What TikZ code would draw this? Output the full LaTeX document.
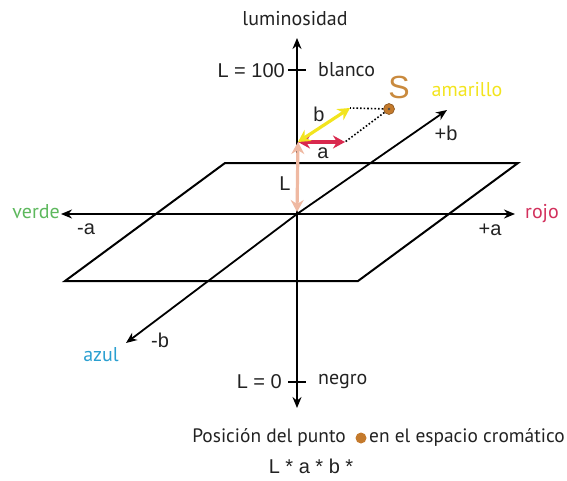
\documentclass[tikz,border=0pt]{standalone}
\usepackage{fontspec}
\setmainfont{PT Sans}
\newfontfamily\arialf{Liberation Sans}
\usetikzlibrary{arrows.meta}
\definecolor{verdec}{HTML}{5DB85D}
\definecolor{rojoc}{HTML}{D2305C}
\definecolor{amarc}{HTML}{F2E41E}
\definecolor{azulc}{HTML}{2A9FD0}
\definecolor{sc}{HTML}{C98A3E}
\definecolor{dotc}{HTML}{C47A2C}
\definecolor{salmon}{HTML}{EFB9A2}
\definecolor{txt}{HTML}{222222}
\begin{document}
\begin{tikzpicture}[x=1pt,y=-1pt,
  axis/.style={line width=1.8pt,-{Stealth[length=11pt,width=9pt]}},
  plane/.style={line width=2pt,line join=miter},
  lbl/.style={font=\fontsize{20}{22}\selectfont,text=txt,inner sep=1pt},
  caplbl/.style={font=\fontsize{19.4}{22}\selectfont,text=txt,inner sep=1pt},
  albl/.style={font=\arialf\fontsize{20}{22}\selectfont,text=txt,inner sep=1pt},
  dbl/.style={line width=3.2pt,{Stealth[length=12pt,width=13pt]}-{Stealth[length=12pt,width=13pt]}},
  dots/.style={line width=1.6pt,dotted}]
\useasboundingbox (0,0) rectangle (567,480);
% coordinates
\coordinate (O) at (297,214);
\coordinate (top) at (297,38);
\coordinate (bot) at (297,408);
\coordinate (left) at (61,214);
\coordinate (right) at (515,214);
\coordinate (pb) at (447,110);
\coordinate (mb) at (126,343);
\coordinate (P1) at (225,163);
\coordinate (P2) at (518,163);
\coordinate (P3) at (358,281);
\coordinate (P4) at (65,281);
% plane
\draw[plane] (P1) -- (P2) -- (P3) -- (P4) -- cycle;
% axes
\draw[axis] (O) -- (top);
\draw[axis] (O) -- (bot);
\draw[axis] (O) -- (left);
\draw[axis] (O) -- (right);
\draw[axis] (O) -- (pb);
\draw[axis] (O) -- (mb);
% ticks
\coordinate (t1a) at (288,70); \coordinate (t1b) at (306,70);
\coordinate (t0a) at (288,382); \coordinate (t0b) at (306,382);
\draw[line width=1.8pt] (t1a) -- (t1b);
\draw[line width=1.8pt] (t0a) -- (t0b);
% labels
\node[lbl] (lum) at (295,19) {luminosidad};
\node[albl,anchor=east] (l100) at (286,71) {L = 100};
\node[lbl,anchor=west] (blanco) at (317,70) {blanco};
\node[albl,anchor=east] (l0) at (283,382) {L = 0};
\node[lbl,anchor=west] (negro) at (317,381) {negro};
\node[lbl,text=verdec,anchor=east] (verde) at (61,212) {verde};
\node[albl] (ma) at (86,229) {-a};
\node[albl] (pa) at (490,230) {+a};
\node[lbl,text=rojoc,anchor=west] (rojo) at (524,214) {rojo};
\node[albl] (pbl) at (446,133) {+b};
\node[albl] (mbl) at (160,340) {-b};
\node[lbl,text=azulc] (azul) at (101,355) {azul};
\node[lbl,text=amarc] (amar) at (467,90) {amarillo};
% point S
\coordinate (A) at (298,142);
\coordinate (ya) at (350,108);
\coordinate (ra) at (345,142);
\node[circle,fill=dotc,draw=dotc!70!black,line width=0.6pt,inner sep=0pt,minimum size=11pt] (S) at (389,109) {};
\fill[black!70] (S.center) circle (1.4pt);
\node[font=\arialf\fontsize{32}{34}\selectfont,text=sc] (Slbl) at (399,87) {S};
\draw[dots] (S) -- (ya);
\draw[dots] (S) -- (ra);
\draw[dbl,salmon] (A) -- (297,212);
\draw[dbl,rojoc!85!red] (A) -- (ra);
\draw[dbl,amarc] (A) -- (ya);
\node[albl] (bl) at (319,114) {b};
\node[albl] (al) at (323,153) {a};
\node[albl] (Ll) at (285,184) {L};
% caption
\node[caplbl,anchor=east] (cap1) at (347,437) {Posición del punto};
\node[circle,fill=dotc,inner sep=0pt,minimum size=11pt] (cdot) at (361,438) {};
\node[caplbl,anchor=west] (cap2) at (368,437) {en el espacio cromático};
\node[albl] (lab) at (311,466) {L * a * b *};
\end{tikzpicture}
\end{document}
